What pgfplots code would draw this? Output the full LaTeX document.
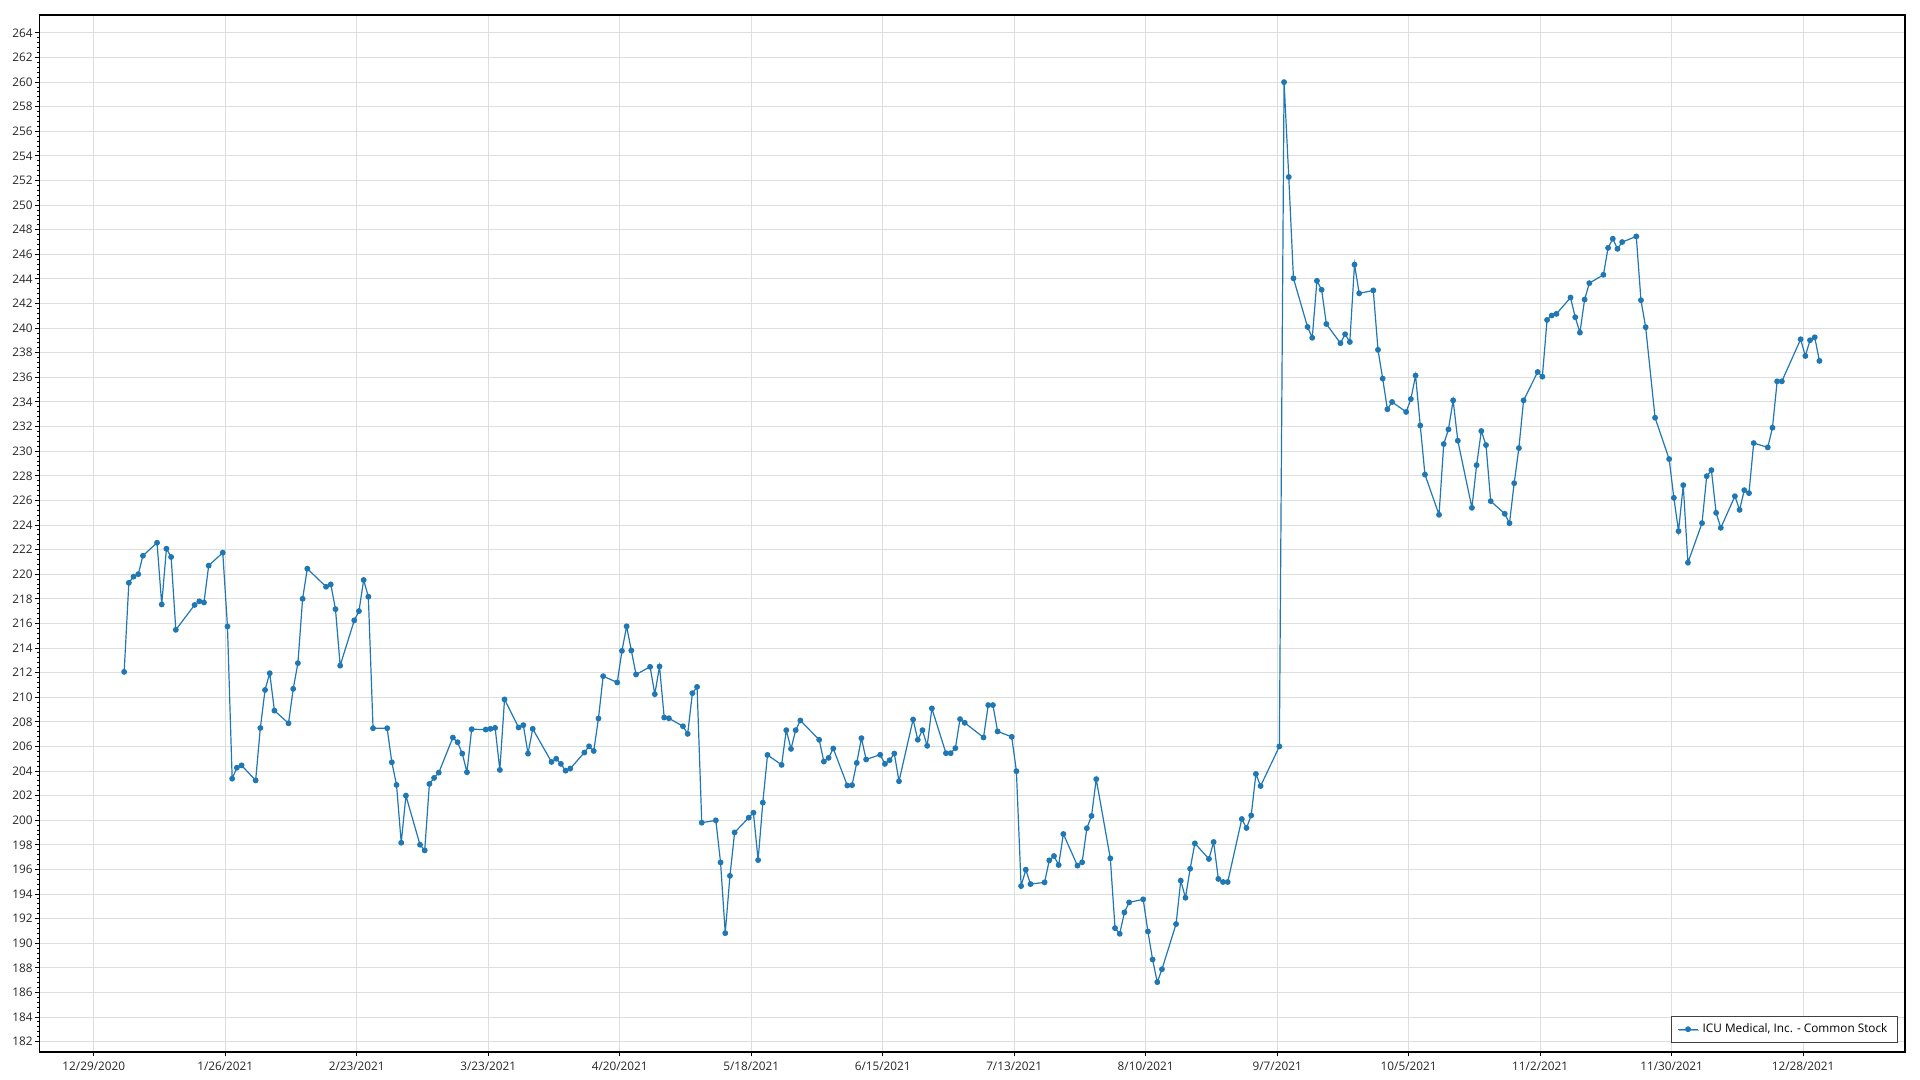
\documentclass[border=0pt]{standalone}
\usepackage{pgfplots}
\pgfplotsset{compat=1.18}
\usepackage{pgfplotstable}
\usepackage{fontspec}
\setmainfont{Open Sans}
\usetikzlibrary{shadows}
\definecolor{series}{RGB}{31,119,180}
\definecolor{gridc}{RGB}{222,222,222}

\pgfplotstableread{
d v
6 212.06
7 219.3
8 219.8
9 220.0
10 221.5
13 222.56
14 217.54
15 222.07
16 221.4
17 215.48
21 217.5
22 217.8
23 217.7
24 220.7
27 221.75
28 215.75
29 203.38
30 204.27
31 204.46
34 203.24
35 207.5
36 210.59
37 211.95
38 208.91
41 207.88
42 210.68
43 212.77
44 218.0
45 220.45
49 218.98
50 219.17
51 217.16
52 212.57
55 216.25
56 217.0
57 219.53
58 218.17
59 207.48
62 207.48
63 204.71
64 202.87
65 198.17
66 202.0
69 198.01
70 197.55
71 202.95
72 203.44
73 203.87
76 206.72
77 206.34
78 205.42
79 203.9
80 207.4
83 207.37
84 207.43
85 207.51
86 204.09
87 209.82
90 207.54
91 207.73
92 205.42
93 207.43
97 204.74
98 205.0
99 204.58
100 204.03
101 204.2
104 205.5
105 206.01
106 205.63
107 208.27
108 211.71
111 211.2
112 213.77
113 215.76
114 213.8
115 211.85
118 212.47
119 210.25
120 212.5
121 208.35
122 208.29
125 207.64
126 207.02
127 210.33
128 210.84
129 199.8
132 199.99
133 196.57
134 190.82
135 195.48
136 199.01
139 200.21
140 200.61
141 196.76
142 201.43
143 205.31
146 204.5
147 207.32
148 205.8
149 207.32
150 208.11
154 206.54
155 204.77
156 205.07
157 205.83
160 202.82
161 202.85
162 204.66
163 206.67
164 204.94
167 205.32
168 204.58
169 204.88
170 205.42
171 203.17
174 208.19
175 206.54
176 207.32
177 206.05
178 209.09
181 205.45
182 205.45
183 205.86
184 208.22
185 207.92
189 206.73
190 209.36
191 209.36
192 207.22
195 206.78
196 203.99
197 194.65
198 195.98
199 194.81
202 194.95
203 196.74
204 197.09
205 196.36
206 198.88
209 196.31
210 196.58
211 199.35
212 200.35
213 203.34
216 196.9
217 191.23
218 190.77
219 192.51
220 193.32
223 193.57
224 190.96
225 188.68
226 186.84
227 187.89
230 191.56
231 195.09
232 193.7
233 196.06
234 198.12
237 196.85
238 198.23
239 195.23
240 194.98
241 194.98
244 200.1
245 199.37
246 200.39
247 203.76
248 202.78
252 206.0
253 260.0
254 252.29
255 244.05
258 240.1
259 239.22
260 243.85
261 243.12
262 240.34
265 238.78
266 239.51
267 238.88
268 245.17
269 242.83
272 243.07
273 238.24
274 235.9
275 233.41
276 234.0
279 233.19
280 234.24
281 236.15
282 232.09
283 228.1
286 224.83
287 230.58
288 231.77
289 234.13
290 230.85
293 225.4
294 228.87
295 231.64
296 230.5
297 225.94
300 224.91
301 224.15
302 227.4
303 230.25
304 234.13
307 236.44
308 236.06
309 240.67
310 241.03
311 241.16
314 242.49
315 240.89
316 239.64
317 242.33
318 243.66
321 244.34
322 246.53
323 247.27
324 246.45
325 247.0
328 247.46
329 242.27
330 240.08
332 232.72
335 229.36
336 226.21
337 223.5
338 227.24
339 220.94
342 224.15
343 227.97
344 228.46
345 224.99
346 223.77
349 226.34
350 225.23
351 226.83
352 226.59
353 230.66
356 230.31
357 231.91
358 235.68
359 235.68
363 239.1
364 237.74
365 239.02
366 239.26
367 237.34
}\datatable

\begin{document}
\begin{tikzpicture}
\path[use as bounding box] (-19.65pt,-14pt) rectangle (940.35pt,526pt);
\begin{axis}[
  at={(0pt,0pt)}, anchor=south west, scale only axis,
  width=932.85pt, height=518.5pt,
  xmin=-11.6, xmax=385.7, ymin=181.16, ymax=265.46,
  xtick={0,28,...,364},
  xticklabels={12/29/2020,1/26/2021,2/23/2021,3/23/2021,4/20/2021,5/18/2021,6/15/2021,7/13/2021,8/10/2021,9/7/2021,10/5/2021,11/2/2021,11/30/2021,12/28/2021},
  ytick={182,184,...,264},
  minor y tick num=4,
  tick align=outside,
  xtick pos=bottom, ytick pos=left,
  major tick length=2.2pt, minor tick length=1.2pt,
  grid=major,
  major grid style={gridc, line width=0.5pt},
  axis line style={black, line width=0.6pt},
  tick style={black, line width=0.5pt},
  ticklabel style={font=\fontsize{5.9}{7}\selectfont, text=black!85},
  /pgf/number format/assume math mode=true,
  yticklabel style={/pgf/number format/fixed, inner sep=1pt},
  xticklabel style={inner sep=1pt, yshift=-1.5pt},
  legend style={at={(1,0)}, anchor=south east, xshift=-3.5pt, yshift=4.6pt,
    draw=black!75, line width=0.6pt, fill=white,
    drop shadow={shadow xshift=0.5pt, shadow yshift=-0.5pt, fill=black!35},
    font=\fontsize{5.9}{7}\selectfont, inner xsep=3pt, inner ysep=1.5pt,
    legend cell align=left},
  legend image code/.code={\draw[#1, mark repeat=2, mark phase=2] plot coordinates {(0pt,0pt) (5pt,0pt) (10pt,0pt)};},
]
\addplot[series, line width=0.6pt, mark=*, mark size=1.15pt, mark options={fill=series, draw=series}] table[x expr=\thisrow{d}+0.47, y=v]{\datatable};
\addlegendentry{ICU Medical, Inc. - Common Stock}
\end{axis}
\end{tikzpicture}
\end{document}
